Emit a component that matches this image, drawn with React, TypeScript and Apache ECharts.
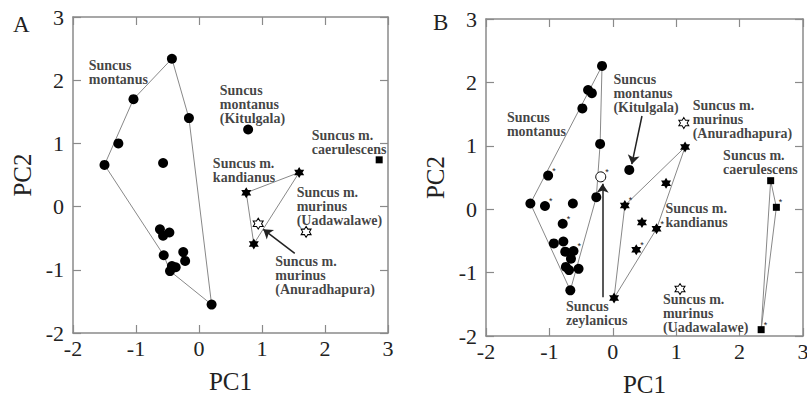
import React, { useEffect, useRef } from "react";
import * as echarts from "echarts";

const SERIF = "'Liberation Serif', 'Times New Roman', serif";

// ---------- Panel A data ----------
const montanusA = [
  [-0.43, 2.34], [-1.04, 1.7], [-0.16, 1.4], [-1.28, 1.0], [-1.5, 0.66], [-0.57, 0.69],
  [-0.62, -0.36], [-0.47, -0.41], [-0.57, -0.46], [-0.56, -0.77], [-0.25, -0.72],
  [-0.22, -0.86], [-0.43, -0.94], [-0.37, -0.96], [-0.46, -1.02], [0.2, -1.55],
];
const montanusHullA = [
  [-1.5, 0.66], [-1.04, 1.7], [-0.43, 2.34], [-0.16, 1.4], [0.2, -1.55], [-0.46, -1.02], [-0.56, -0.77], [-1.5, 0.66],
];
const kitulgalaA = [[0.78, 1.22]];
const kandianusA = [[1.59, 0.54], [0.75, 0.22], [0.87, -0.59]];
const kandianusHullA = [[0.75, 0.22], [1.59, 0.54], [0.87, -0.59], [0.75, 0.22]];
const murinusA = [[0.94, -0.27], [1.7, -0.4]];
const caerulescensA = [[2.86, 0.74]];
const arrowsA = [[[1.52, -0.74], [1.02, -0.36]]];

// ---------- Panel B data (third value 1 = asterisk) ----------
const montanusB = [
  [-0.17, 2.26, 0], [-0.39, 1.88, 0], [-0.33, 1.83, 0], [-0.48, 1.59, 0], [-0.2, 1.03, 0],
  [-1.02, 0.53, 1], [-0.26, 0.19, 0], [-1.3, 0.09, 0], [-1.07, 0.05, 1], [-0.63, 0.09, 0],
  [-0.79, -0.23, 1], [-0.93, -0.54, 0], [-0.78, -0.51, 0], [-0.75, -0.67, 0], [-0.62, -0.66, 1],
  [-0.66, -0.78, 0], [-0.74, -0.91, 0], [-0.69, -0.96, 0], [-0.54, -0.94, 0], [-0.67, -1.28, 0],
];
const montanusHullB = [[-1.3, 0.09], [-0.17, 2.26], [-0.2, 1.03], [-0.26, 0.19], [-0.67, -1.28], [-1.3, 0.09]];
const kitulgalaB = [[0.26, 0.62, 0]];
const zeylanicusB = [[-0.19, 0.51, 1]];
const kandianusB = [
  [1.14, 0.98, 0], [0.84, 0.41, 0], [0.19, 0.06, 1], [0.46, -0.21, 0], [0.69, -0.31, 1], [0.37, -0.64, 1], [0.02, -1.4, 0],
];
const kandianusHullB = [[0.19, 0.06], [1.14, 0.98], [0.69, -0.31], [0.02, -1.4], [0.19, 0.06]];
const murinusB = [[1.12, 1.36, 0], [1.06, -1.26, 0]];
const caerulescensB = [[2.49, 0.45, 0], [2.58, 0.03, 1], [2.34, -1.9, 1]];
const caerulescensHullB = [[2.49, 0.45], [2.58, 0.03], [2.34, -1.9], [2.49, 0.45]];
const arrowsB = [
  [[0.46, 1.47], [0.3, 0.71]],
  [[-0.16, -1.39], [-0.16, 0.4]],
];

// ---------- Annotation texts ----------
const textsA = [
  "Suncus\nmontanus",
  "Suncus\nmontanus\n(Kitulgala)",
  "Suncus m.\ncaerulescens",
  "Suncus m.\nkandianus",
  "Suncus m.\nmurinus\n(Uadawalawe)",
  "Suncus m.\nmurinus\n(Anuradhapura)",
];
const textsB = [
  "Suncus\nmontanus",
  "Suncus\nmontanus\n(Kitulgala)",
  "Suncus m.\nmurinus\n(Anuradhapura)",
  "Suncus m.\ncaerulescens",
  "Suncus m.\nkandianus",
  "Suncus m.\nmurinus\n(Uadawalawe)",
  "Suncus\nzeylanicus",
];
// anchors (top-left of each text block, in data units)
const anchorsA = [[-1.75, 2.35], [0.33, 1.95], [1.79, 1.24], [0.22, 0.8], [1.55, 0.34], [1.21, -0.76]];
const anchorsB = [[-1.67, 1.55], [0.01, 2.16], [1.26, 1.75], [1.74, 0.95], [0.83, 0.12], [0.79, -1.32], [-0.74, -1.43]];

const TICKS = ["-2", "-1", "0", "1", "2", "3"];

const STAR =
  "path://M50 0 L64.4 25 L93.3 25 L78.9 50 L93.3 75 L64.4 75 L50 100 L35.6 75 L6.7 75 L21.1 50 L6.7 25 L35.6 25 Z";

const AXIS_COLOR = "#8a8a8a";

function xAxes(gi: number) {
  const common = {
    gridIndex: gi,
    type: "value",
    min: -2,
    max: 3,
    interval: 1,
    splitLine: { show: false },
    axisLine: { show: true, onZero: false, lineStyle: { color: AXIS_COLOR, width: 1.5 } },
    axisTick: { show: true, inside: true, length: 8, lineStyle: { color: AXIS_COLOR, width: 1.2 } },
  };
  return [
    {
      ...common,
      position: "bottom",
      axisLabel: { color: "#222", fontFamily: SERIF, fontSize: 22, margin: 4, formatter: (v: number) => TICKS[Math.round(v) + 2] },
      name: "PC1",
      nameLocation: "middle",
      nameGap: 36,
      nameTextStyle: { color: "#222", fontFamily: SERIF, fontSize: 25 },
    },
    { ...common, position: "top", axisLabel: { show: false } },
  ];
}
function yAxes(gi: number) {
  const common = {
    gridIndex: gi,
    type: "value",
    min: -2,
    max: 3,
    interval: 1,
    splitLine: { show: false },
    axisLine: { show: true, onZero: false, lineStyle: { color: AXIS_COLOR, width: 1.5 } },
    axisTick: { show: true, inside: true, length: 8, lineStyle: { color: AXIS_COLOR, width: 1.2 } },
  };
  return [
    {
      ...common,
      position: "left",
      axisLabel: { color: "#222", fontFamily: SERIF, fontSize: 22, margin: 9, formatter: (v: number) => TICKS[Math.round(v) + 2] },
      name: "PC2",
      nameLocation: "middle",
      nameGap: 38,
      nameTextStyle: { color: "#222", fontFamily: SERIF, fontSize: 25 },
    },
    { ...common, position: "right", axisLabel: { show: false } },
  ];
}

const asteriskLabel = {
  show: true,
  formatter: (p: any) => (p.value && p.value[2] === 1 ? "*" : ""),
  position: "right",
  distance: 0,
  offset: [-1, -5],
  fontSize: 9,
  color: "#222",
};

function pts(gi: number, data: number[][], symbol: string, size: number | number[], itemStyle: any) {
  return {
    type: "scatter",
    xAxisIndex: gi * 2,
    yAxisIndex: gi * 2,
    data,
    symbol,
    symbolSize: size,
    itemStyle: { opacity: 1, ...itemStyle },
    z: 4,
    silent: true,
    label: asteriskLabel,
  };
}
function hull(gi: number, data: number[][], arrows?: number[][][]) {
  const s: any = {
    type: "line",
    xAxisIndex: gi * 2,
    yAxisIndex: gi * 2,
    data,
    symbol: "none",
    showSymbol: false,
    lineStyle: { color: "#888", width: 1 },
    z: 2,
    silent: true,
  };
  if (arrows) {
    s.markLine = {
      silent: true,
      symbol: ["none", "arrow"],
      symbolSize: 9,
      lineStyle: { color: "#222", width: 1.5, type: "solid" },
      label: { show: false },
      data: arrows.map((a) => [{ coord: a[0] }, { coord: a[1] }]),
    };
  }
  return s;
}
function texts(gi: number, t: string[], at: number[][]) {
  return {
    type: "scatter",
    xAxisIndex: gi * 2,
    yAxisIndex: gi * 2,
    data: t.map((s, i) => ({ value: at[i], label: { formatter: s } })),
    symbolSize: 0,
    itemStyle: { color: "transparent" },
    silent: true,
    z: 5,
    label: {
      show: true,
      position: "inside",
      align: "left",
      verticalAlign: "top",
      fontFamily: SERIF,
      fontWeight: "bold",
      fontSize: 14,
      lineHeight: 14,
      color: "#111",
    },
  };
}

const black = { color: "#000" };
const openStar = { color: "#fff", borderColor: "#000", borderWidth: 1 };

export default function App() {
  const ref = useRef<HTMLDivElement>(null);
  useEffect(() => {
    if (!ref.current) return;
    const chart = echarts.init(ref.current, undefined, { renderer: "svg" });
    chart.setOption({
      animation: false,
      backgroundColor: "#fff",
      title: [
        { text: "A", left: 13, top: 13, padding: 0, textStyle: { fontFamily: SERIF, fontWeight: "normal", fontSize: 23, color: "#222" } },
        { text: "B", left: 433, top: 11, padding: 0, textStyle: { fontFamily: SERIF, fontWeight: "normal", fontSize: 23, color: "#222" } },
      ],
      grid: [
        { left: 73, top: 17, width: 315, height: 316, containLabel: false, outerBoundsMode: "none" },
        { left: 486, top: 19, width: 317, height: 317, containLabel: false, outerBoundsMode: "none" },
      ],
      xAxis: [...xAxes(0), ...xAxes(1)],
      yAxis: [...yAxes(0), ...yAxes(1)],
      series: [
        // Panel A
        hull(0, montanusHullA, arrowsA),
        hull(0, kandianusHullA),
        pts(0, montanusA, "circle", 10, black),
        pts(0, kitulgalaA, "circle", 10, black),
        pts(0, kandianusA, STAR, [10, 11], black),
        pts(0, murinusA, STAR, [10, 11], openStar),
        pts(0, caerulescensA, "rect", 7, black),
        texts(0, textsA, anchorsA),
        // Panel B
        hull(1, montanusHullB, arrowsB),
        hull(1, kandianusHullB),
        hull(1, caerulescensHullB),
        pts(1, montanusB, "circle", 10, black),
        pts(1, kitulgalaB, "circle", 10, black),
        pts(1, zeylanicusB, "circle", 10, openStar),
        pts(1, kandianusB, STAR, [10, 11], black),
        pts(1, murinusB, STAR, [10, 11], openStar),
        pts(1, caerulescensB, "rect", 7, black),
        texts(1, textsB, anchorsB),
      ],
    });
    return () => chart.dispose();
  }, []);
  return <div ref={ref} style={{ position: "fixed", left: 0, top: 0, width: 807, height: 399 }} />;
}
